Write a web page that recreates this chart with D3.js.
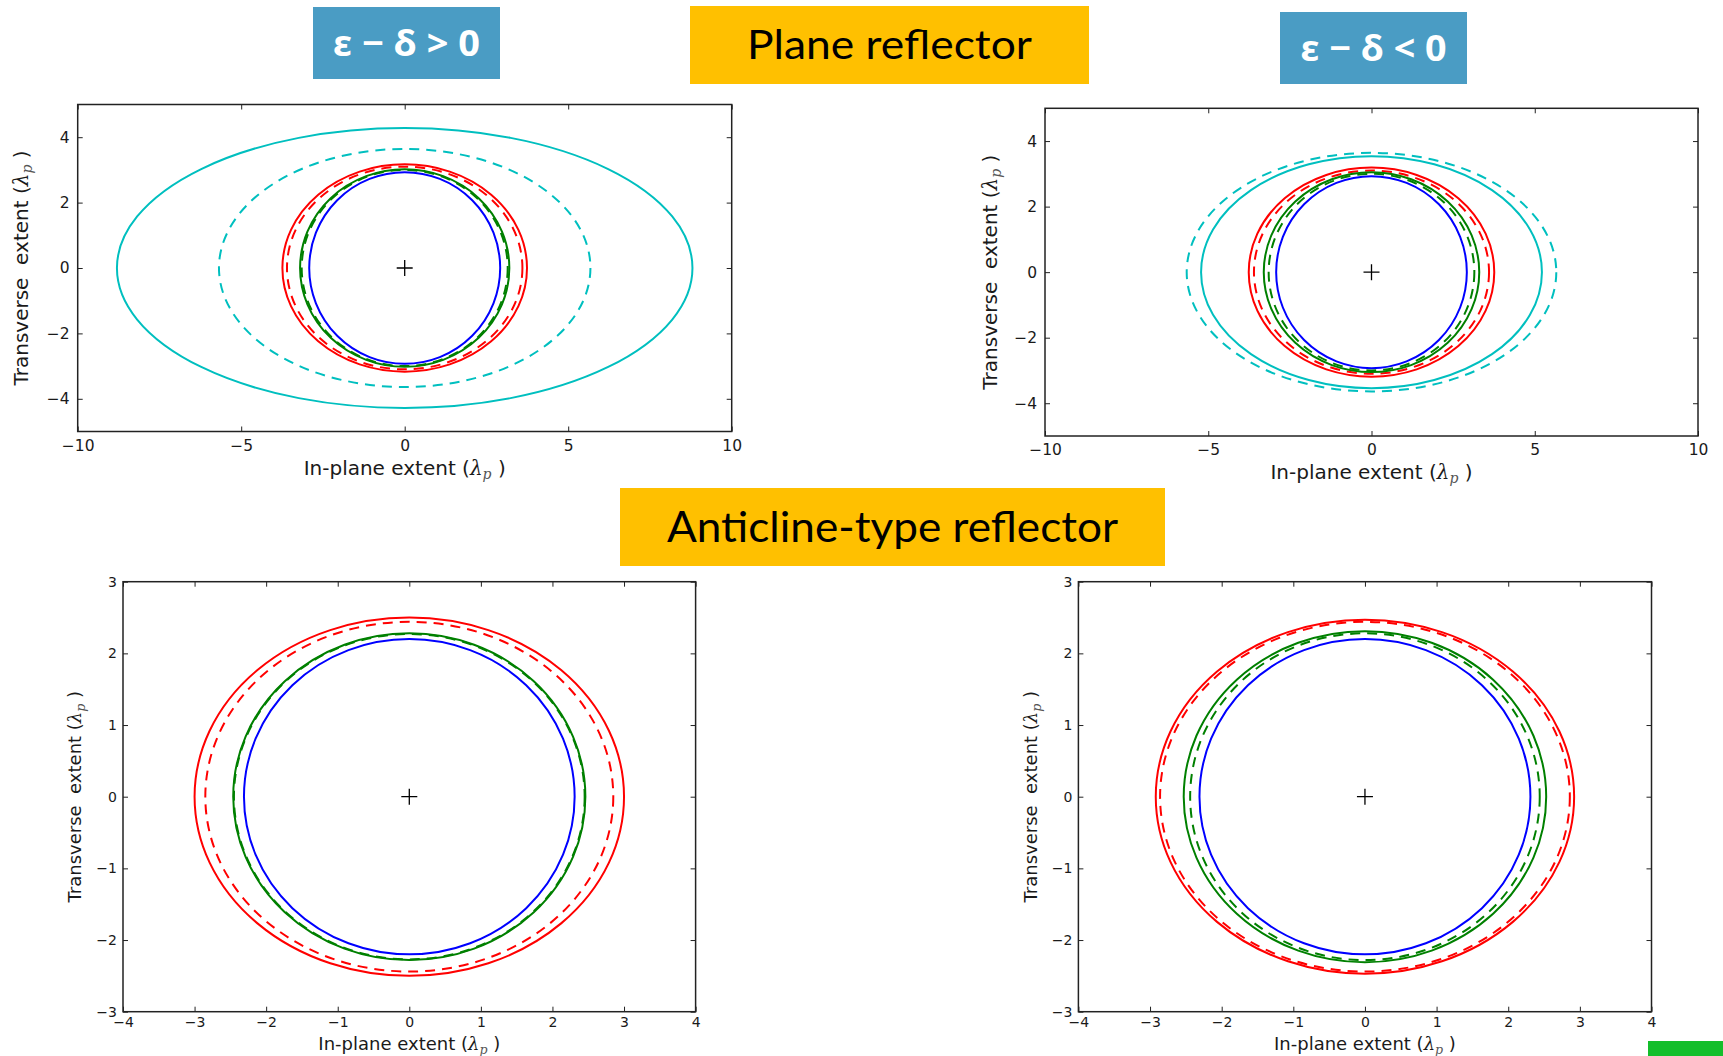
<!DOCTYPE html>
<html>
<head>
<meta charset="utf-8">
<script src="https://cdn.jsdelivr.net/npm/d3@7"></script>
<style>
  body { margin: 0; background: #fff; }
  svg { display: block; }
</style>
</head>
<body>
<svg id="fig" width="1723" height="1056"></svg>
<script>
// ---- data -------------------------------------------------------------
// Curve order in the plane-reflector panels:
// cyan, cyan dashed, red, red dashed, green, green dashed, blue
const planeColors = ["#00bfbf", "#00bfbf", "#ff0000", "#ff0000", "#008000", "#008000", "#0000ff"];
const planeDashed = [false, true, false, true, false, true, false];

// semi-axes of each footprint, in λp (A = in-plane, B = transverse)
const planePosA = [8.80, 5.68, 3.74, 3.60, 3.20, 3.15, 2.92];
const planePosB = [4.28, 3.64, 3.17, 3.10, 3.02, 3.00, 2.93];
const planeNegA = [5.22, 5.66, 3.76, 3.60, 3.30, 3.15, 2.92];
const planeNegB = [3.54, 3.64, 3.19, 3.10, 3.05, 3.00, 2.93];

// Curve order in the anticline panels: red, red dashed, green, green dashed, blue
const anticlineColors = ["#ff0000", "#ff0000", "#008000", "#008000", "#0000ff"];
const anticlineDashed = [false, true, false, true, false];

const anticlinePosA = [3.00, 2.85, 2.46, 2.45, 2.31];
const anticlinePosB = [2.50, 2.44, 2.28, 2.27, 2.20];
const anticlineNegA = [2.92, 2.86, 2.53, 2.44, 2.31];
const anticlineNegB = [2.47, 2.44, 2.31, 2.28, 2.20];

const planeXTicks = [-10, -5, 0, 5, 10];
const planeYTicks = [-4, -2, 0, 2, 4];
const anticlineXTicks = [-4, -3, -2, -1, 0, 1, 2, 3, 4];
const anticlineYTicks = [-3, -2, -1, 0, 1, 2, 3];

const headerLabels = ["ε − δ > 0", "Plane reflector", "ε − δ < 0", "Anticline-type reflector"];

// ---- layout -----------------------------------------------------------
const svg = d3.select("#fig");
const textColor = "#1a1a1a";

const panels = [
  { a: planePosA, b: planePosB, colors: planeColors, dashed: planeDashed,
    xDomain: [-10, 10], yDomain: [-5, 5], xTicks: planeXTicks, yTicks: planeYTicks,
    box: [77.7, 104.5, 731.7, 431.5], tickFont: 15.5, labelFont: 20,
    xPad: 8, yPad: 8, ylabelX: 28, xlabelY: 475 },
  { a: planeNegA, b: planeNegB, colors: planeColors, dashed: planeDashed,
    xDomain: [-10, 10], yDomain: [-5, 5], xTicks: planeXTicks, yTicks: planeYTicks,
    box: [1045, 108.3, 1698, 436], tickFont: 15.5, labelFont: 20,
    xPad: 8, yPad: 8, ylabelX: 997, xlabelY: 479 },
  { a: anticlinePosA, b: anticlinePosB, colors: anticlineColors, dashed: anticlineDashed,
    xDomain: [-4, 4], yDomain: [-3, 3], xTicks: anticlineXTicks, yTicks: anticlineYTicks,
    box: [123, 581.7, 695.6, 1011.7], tickFont: 14, labelFont: 18,
    xPad: 5, yPad: 6, ylabelX: 81, xlabelY: 1050 },
  { a: anticlineNegA, b: anticlineNegB, colors: anticlineColors, dashed: anticlineDashed,
    xDomain: [-4, 4], yDomain: [-3, 3], xTicks: anticlineXTicks, yTicks: anticlineYTicks,
    box: [1078.4, 581.7, 1651.5, 1011.7], tickFont: 14, labelFont: 18,
    xPad: 5, yPad: 6, ylabelX: 1037, xlabelY: 1050 }
];

const fmt = d3.format("d");

function styleAxis(g, size) {
  g.select(".domain").remove();
  g.selectAll(".tick line").attr("stroke", "#222").attr("stroke-width", 1);
  g.selectAll(".tick text")
    .attr("fill", textColor)
    .attr("font-family", "'DejaVu Sans', sans-serif")
    .attr("font-size", size);
}

// math-style unit suffix "(λp )"
function addUnit(text, size) {
  text.append("tspan").text("(");
  text.append("tspan").attr("font-style", "italic").attr("font-family", "'DejaVu Serif', serif").text("λ");
  text.append("tspan").attr("font-style", "italic").attr("font-family", "'DejaVu Serif', serif")
    .attr("font-size", size * 0.7).attr("dy", size * 0.22).attr("fill", "#555").text("p");
  text.append("tspan").attr("dy", -size * 0.22).text(" )");
}

panels.forEach((p, k) => {
  const [x0, y0, x1, y1] = p.box;
  const x = d3.scaleLinear().domain(p.xDomain).range([x0, x1]);
  const y = d3.scaleLinear().domain(p.yDomain).range([y1, y0]);
  const g = svg.append("g");

  const clipId = "clip" + k;
  g.append("clipPath").attr("id", clipId)
    .append("rect").attr("x", x0).attr("y", y0).attr("width", x1 - x0).attr("height", y1 - y0);

  // footprint ellipses
  g.append("g").attr("clip-path", `url(#${clipId})`)
    .selectAll("ellipse")
    .data(d3.range(p.a.length))
    .join("ellipse")
      .attr("cx", x(0))
      .attr("cy", y(0))
      .attr("rx", i => x(p.a[i]) - x(0))
      .attr("ry", i => y(0) - y(p.b[i]))
      .attr("fill", "none")
      .attr("stroke", i => p.colors[i])
      .attr("stroke-width", 2)
      .attr("stroke-dasharray", i => p.dashed[i] ? "10,7" : null);

  // source position marker
  const m = 8;
  g.append("path")
    .attr("d", `M${x(0) - m},${y(0)}H${x(0) + m}M${x(0)},${y(0) - m}V${y(0) + m}`)
    .attr("stroke", "#000").attr("stroke-width", 1.3).attr("fill", "none");

  // axes: ticks point inward on all four sides
  g.append("g").attr("transform", `translate(0,${y1})`)
    .call(d3.axisBottom(x).tickValues(p.xTicks).tickFormat(fmt)
      .tickSizeInner(-5).tickSizeOuter(0).tickPadding(p.xPad))
    .call(a => styleAxis(a, p.tickFont));
  g.append("g").attr("transform", `translate(${x0},0)`)
    .call(d3.axisLeft(y).tickValues(p.yTicks).tickFormat(fmt)
      .tickSizeInner(-5).tickSizeOuter(0).tickPadding(p.yPad))
    .call(a => styleAxis(a, p.tickFont));
  g.append("g").attr("transform", `translate(0,${y0})`)
    .call(d3.axisTop(x).tickValues(p.xTicks).tickFormat(() => "")
      .tickSizeInner(-5).tickSizeOuter(0))
    .call(a => styleAxis(a, p.tickFont));
  g.append("g").attr("transform", `translate(${x1},0)`)
    .call(d3.axisRight(y).tickValues(p.yTicks).tickFormat(() => "")
      .tickSizeInner(-5).tickSizeOuter(0))
    .call(a => styleAxis(a, p.tickFont));

  // frame
  g.append("rect")
    .attr("x", x0).attr("y", y0).attr("width", x1 - x0).attr("height", y1 - y0)
    .attr("fill", "none").attr("stroke", "#222").attr("stroke-width", 1.5);

  // axis titles
  const xl = g.append("text")
    .attr("x", (x0 + x1) / 2).attr("y", p.xlabelY)
    .attr("text-anchor", "middle")
    .attr("font-family", "'DejaVu Sans', sans-serif")
    .attr("font-size", p.labelFont).attr("fill", textColor);
  xl.append("tspan").text("In-plane extent ");
  addUnit(xl, p.labelFont);

  const yl = g.append("text")
    .attr("transform", `translate(${p.ylabelX},${(y0 + y1) / 2}) rotate(-90)`)
    .attr("text-anchor", "middle")
    .style("white-space", "pre")
    .attr("font-family", "'DejaVu Sans', sans-serif")
    .attr("font-size", p.labelFont).attr("fill", textColor);
  yl.append("tspan").text("Transverse  extent ");
  addUnit(yl, p.labelFont);
});

// ---- header boxes -----------------------------------------------------
const headers = [
  { box: [313, 7, 500, 79], fill: "#4a9cc4", color: "#fff", weight: 700, size: 36,
    family: "'Noto Sans', sans-serif", width: 147 },
  { box: [690, 6, 1089, 84], fill: "#ffc000", color: "#000", weight: 400, size: 40,
    family: "Lato, sans-serif", width: 285 },
  { box: [1280, 12, 1467, 84], fill: "#4a9cc4", color: "#fff", weight: 700, size: 36,
    family: "'Noto Sans', sans-serif", width: 146 },
  { box: [620, 488, 1165, 566], fill: "#ffc000", color: "#000", weight: 400, size: 43,
    family: "Lato, sans-serif", width: 451 }
];

headers.forEach((h, i) => {
  const [hx0, hy0, hx1, hy1] = h.box;
  svg.append("rect")
    .attr("x", hx0).attr("y", hy0).attr("width", hx1 - hx0).attr("height", hy1 - hy0)
    .attr("fill", h.fill);
  svg.append("text")
    .attr("x", (hx0 + hx1) / 2)
    .attr("y", (hy0 + hy1) / 2 + 0.36 * h.size)
    .attr("text-anchor", "middle")
    .attr("font-family", h.family)
    .attr("font-weight", h.weight)
    .attr("font-size", h.size)
    .attr("fill", h.color)
    .attr("textLength", h.width)
    .attr("lengthAdjust", "spacingAndGlyphs")
    .text(headerLabels[i]);
});

// slide accent bar
svg.append("rect")
  .attr("x", 1648).attr("y", 1041).attr("width", 75).attr("height", 15)
  .attr("fill", "#13be2b");
</script>
</body>
</html>
